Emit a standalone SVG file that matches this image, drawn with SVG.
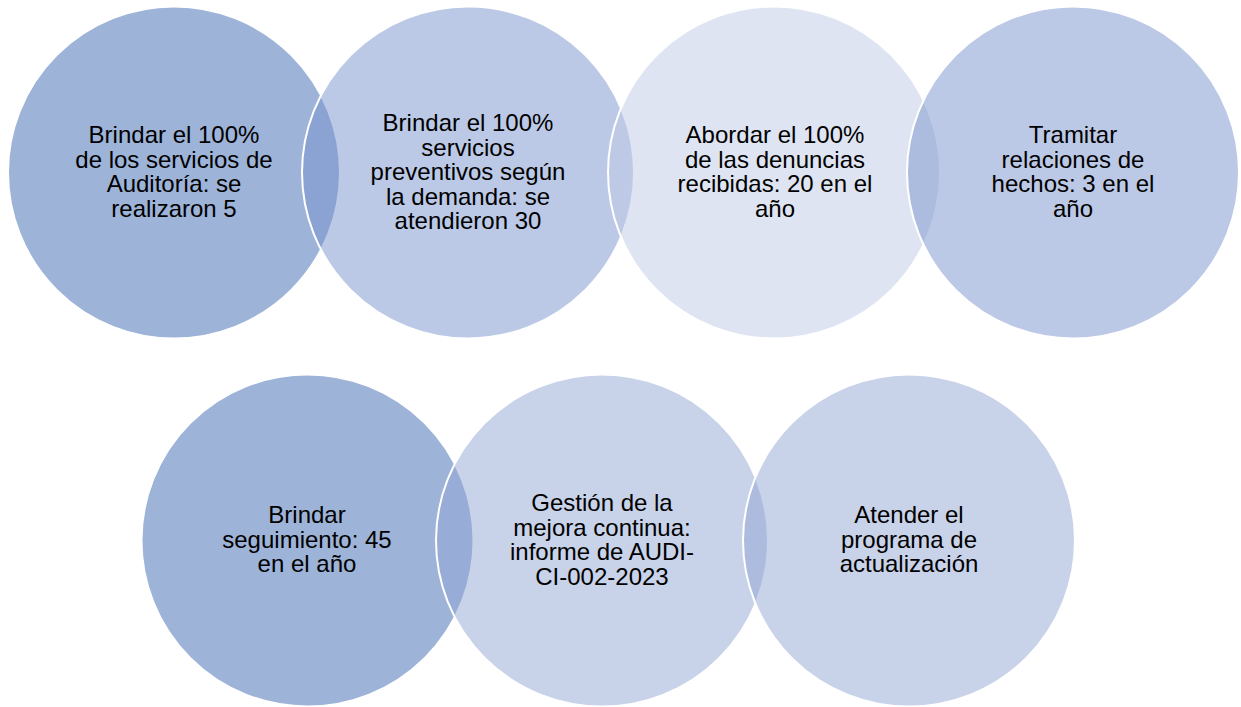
<svg xmlns="http://www.w3.org/2000/svg" width="1241" height="707" viewBox="0 0 1241 707">
  <style>
    .c { fill-opacity: 0.5; stroke: #FFFFFF; stroke-width: 2; }
    .c1 { fill: #3B67B1; }
    .c2 { fill: #7993CD; }
    .c3 { fill: #BDC9E3; }
    .c6 { fill: #91A5D3; }
    text { font-family: "Liberation Sans", Arial, sans-serif; font-size: 24px; fill: #000000; text-anchor: middle; }
  </style>
  <rect width="1241" height="707" fill="#FFFFFF"/>
  <g id="node1">
    <circle class="c c1" cx="174" cy="172.5" r="166"/>
    <text x="174" y="143"><tspan x="174">Brindar el 100%</tspan><tspan x="174" dy="24.5">de los servicios de</tspan><tspan x="174" dy="24.5">Auditoría: se</tspan><tspan x="174" dy="24.5">realizaron 5</tspan></text>
  </g>
  <g id="node2">
    <circle class="c c2" cx="468" cy="172.5" r="166"/>
    <text x="468" y="131"><tspan x="468">Brindar el 100%</tspan><tspan x="468" dy="24.5">servicios</tspan><tspan x="468" dy="24.5">preventivos según</tspan><tspan x="468" dy="24.5">la demanda: se</tspan><tspan x="468" dy="24.5">atendieron 30</tspan></text>
  </g>
  <g id="node3">
    <circle class="c c3" cx="774" cy="172.5" r="166"/>
    <text x="775" y="143"><tspan x="775">Abordar el 100%</tspan><tspan x="775" dy="24.5">de las denuncias</tspan><tspan x="775" dy="24.5">recibidas: 20 en el</tspan><tspan x="775" dy="24.5">año</tspan></text>
  </g>
  <g id="node4">
    <circle class="c c2" cx="1073" cy="172.5" r="166"/>
    <text x="1073" y="143"><tspan x="1073">Tramitar</tspan><tspan x="1073" dy="24.5">relaciones de</tspan><tspan x="1073" dy="24.5">hechos: 3 en el</tspan><tspan x="1073" dy="24.5">año</tspan></text>
  </g>
  <g id="node5">
    <circle class="c c1" cx="307.5" cy="540.5" r="166"/>
    <text x="307" y="523"><tspan x="307">Brindar</tspan><tspan x="307" dy="24.5">seguimiento: 45</tspan><tspan x="307" dy="24.5">en el año</tspan></text>
  </g>
  <g id="node6">
    <circle class="c c6" cx="602" cy="540.5" r="166"/>
    <text x="602" y="511"><tspan x="602">Gestión de la</tspan><tspan x="602" dy="24.5">mejora continua:</tspan><tspan x="602" dy="24.5">informe de AUDI-</tspan><tspan x="602" dy="24.5">CI-002-2023</tspan></text>
  </g>
  <g id="node7">
    <circle class="c c6" cx="909" cy="540.5" r="166"/>
    <text x="909" y="523"><tspan x="909">Atender el</tspan><tspan x="909" dy="24.5">programa de</tspan><tspan x="909" dy="24.5">actualización</tspan></text>
  </g>
  <g id="connectors"></g>
</svg>
